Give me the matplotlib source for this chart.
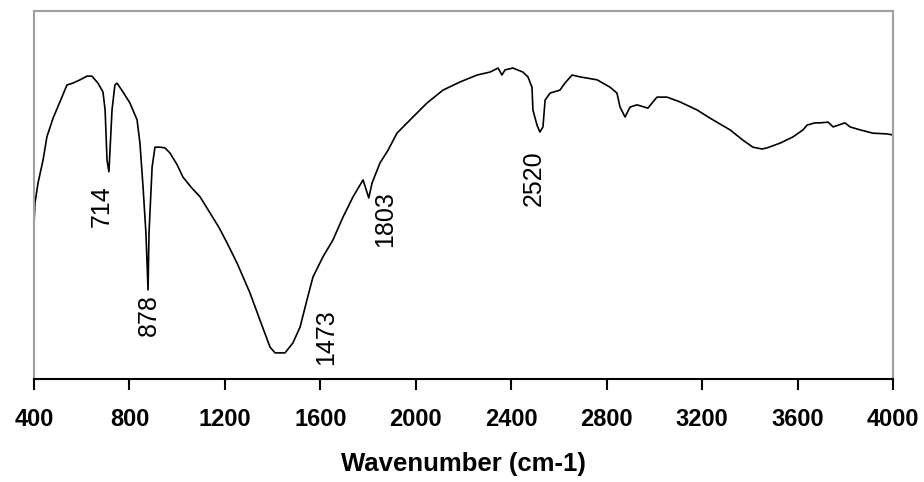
import matplotlib
matplotlib.use("Agg")
import matplotlib.pyplot as plt

wavenumber = [400, 404, 417, 438, 454, 480, 517, 538, 563, 593, 622, 643, 668, 689, 698, 706, 714,
              727, 739, 748, 773, 802, 832, 844, 857, 869, 878, 882, 895, 907, 928, 949, 970,
              1000, 1024, 1060, 1096, 1138, 1175, 1209, 1251, 1305, 1347, 1389, 1410, 1452, 1485,
              1515, 1544, 1569, 1611, 1653, 1695, 1737, 1779, 1803, 1817, 1850, 1884, 1921, 1976,
              2047, 2114, 2185, 2257, 2311, 2345, 2361, 2374, 2407, 2449, 2470, 2487, 2491, 2508,
              2520, 2533, 2542, 2563, 2604, 2625, 2655, 2688, 2760, 2814, 2843, 2856, 2877, 2898,
              2927, 2973, 2994, 3011, 3053, 3107, 3179, 3233, 3246, 3317, 3371, 3413, 3451, 3472,
              3527, 3581, 3623, 3640, 3673, 3694, 3728, 3749, 3799, 3820, 3862, 3916, 3975, 4000]
transmittance = [41.8, 47.8, 53.3, 59.5, 65.8, 70.9, 76.6, 79.9, 80.4, 81.3, 82.3, 82.3, 80.4, 78.0,
                 73.1, 59.5, 56.3, 73.1, 79.9, 80.4, 78.0, 75.0, 70.4, 64.1, 52.2, 39.7, 24.2, 39.7,
                 57.6, 63.0, 63.0, 62.8, 61.4, 58.2, 54.9, 52.0, 49.5, 45.1, 41.2, 37.0, 31.5, 23.4,
                 16.0, 8.7, 7.1, 7.1, 9.8, 14.1, 21.5, 27.7, 33.2, 37.8, 44.0, 49.5, 54.1, 49.2,
                 53.3, 58.7, 62.2, 66.8, 70.4, 75.0, 78.5, 80.7, 82.6, 83.4, 84.5, 82.6, 84.0, 84.5,
                 83.4, 82.1, 79.3, 73.1, 69.0, 67.1, 68.5, 75.8, 77.7, 78.5, 80.4, 82.6, 82.1, 81.3,
                 79.3, 77.7, 73.9, 71.2, 73.9, 74.5, 73.6, 75.3, 76.6, 76.6, 75.3, 73.1, 70.9, 70.4,
                 67.7, 64.9, 63.0, 62.5, 62.8, 64.1, 65.8, 67.7, 69.0, 69.6, 69.6, 69.8, 68.5, 69.6,
                 68.5, 67.7, 66.8, 66.6, 66.3]

peak_labels = ["714", "878", "1473", "1803", "2520"]
label_x = [684, 880, 1623, 1873, 2494]
label_y = [47, 17.5, 11.5, 43.5, 54.5]

xticks = [400, 800, 1200, 1600, 2000, 2400, 2800, 3200, 3600, 4000]

plt.rcParams['font.family'] = ['Liberation Sans', 'DejaVu Sans']

fig = plt.figure(figsize=(9.24, 4.82), dpi=100)
ax = fig.add_axes([34/924, 103/482, 859/924, 368/482])

ax.plot(wavenumber, transmittance, color='black', linewidth=1.2)

ax.set_xlim(400, 4000)
ax.set_ylim(0, 100)
ax.set_xticks(xticks)
ax.set_xticklabels([str(t) for t in xticks], fontsize=17, fontweight='bold')
ax.set_yticks([])
ax.tick_params(axis='x', direction='out', length=8, width=1.5, pad=13, color='black')

for s in ['left', 'top', 'right']:
    ax.spines[s].set_color('#a0a0a0')
    ax.spines[s].set_linewidth(1.5)
ax.spines['bottom'].set_color('black')
ax.spines['bottom'].set_linewidth(1.5)

for t, x, y in zip(peak_labels, label_x, label_y):
    ax.text(x, y, t, rotation=90, ha='center', va='center', fontsize=18)

ax.set_xlabel('Wavenumber (cm-1)', fontsize=18.5, fontweight='bold', labelpad=15)

fig.savefig('out.png', dpi=100)
